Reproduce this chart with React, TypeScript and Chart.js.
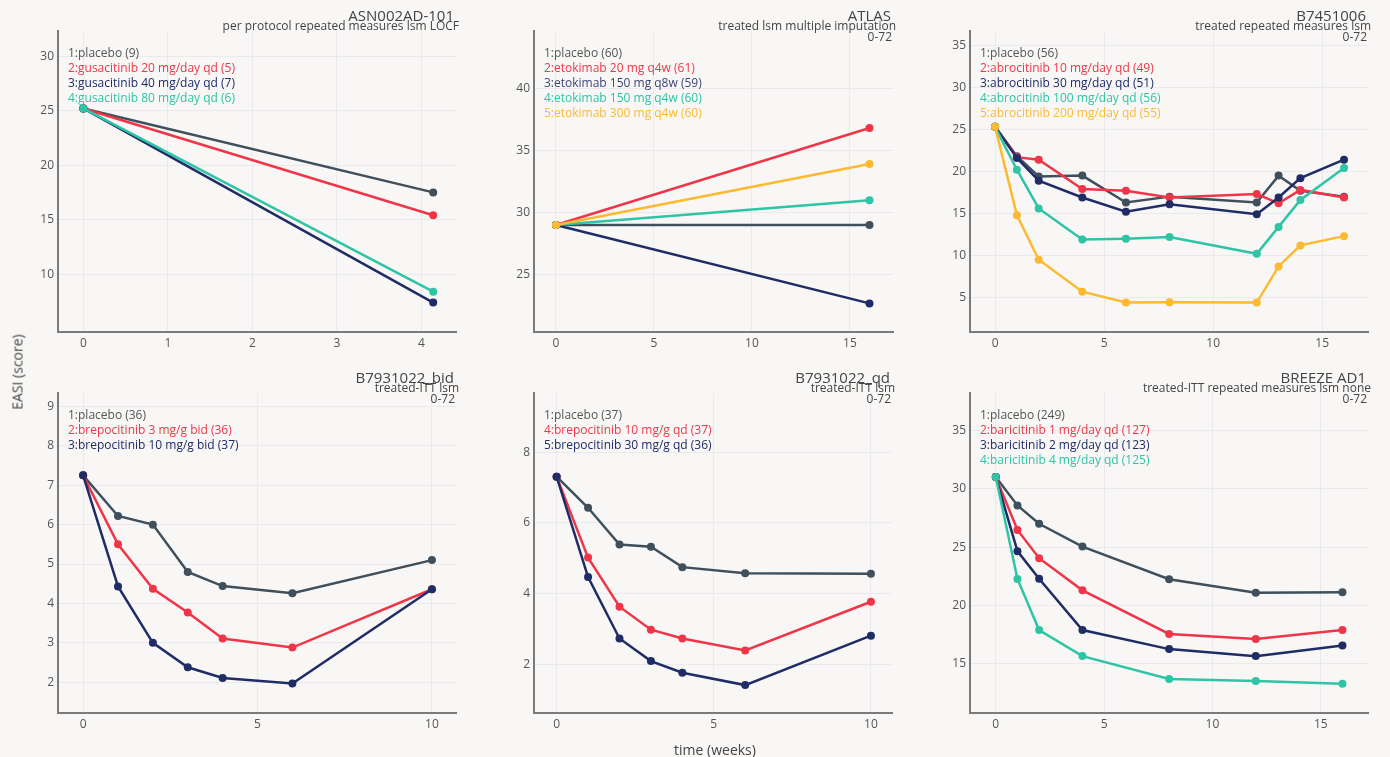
import { useEffect, useRef } from "react";
import { Chart, registerables } from "chart.js";

Chart.register(...registerables);
Chart.defaults.font.family = "'Open Sans', sans-serif";

// colours
const PLACEBO = "#3f4f5b";
const RED = "#ef3649";
const NAVY = "#1f2c66";
const TEAL = "#2ec4a5";
const YELLOW = "#fdb930";
const BG = "#f8f7f6";
const GRID = "#eaeaec";
const AXIS = "#7a7a7a";
const TEXT = "#555";

// ASN002AD-101
const asnWeeks = [0, 4.14];
const asnPlacebo = [25.2, 17.5];
const asnGus20 = [25.2, 15.4];
const asnGus40 = [25.2, 7.4];
const asnGus80 = [25.2, 8.4];
const asnXTicks = [0, 1, 2, 3, 4];
const asnYTicks = [10, 15, 20, 25, 30];

// ATLAS
const atlasWeeks = [0, 16];
const atlasPlacebo = [29.0, 29.0];
const atlasEto20q4w = [29.0, 36.8];
const atlasEto150q8w = [29.0, 22.7];
const atlasEto150q4w = [29.0, 31.0];
const atlasEto300q4w = [29.0, 33.9];
const atlasXTicks = [0, 5, 10, 15];
const atlasYTicks = [25, 30, 35, 40];

// B7451006
const b745Weeks = [0, 1, 2, 4, 6, 8, 12, 13, 14, 16];
const b745Placebo = [25.3, 21.8, 19.4, 19.5, 16.3, 17.0, 16.3, 19.5, 17.7, 17.0];
const b745Abro10 = [25.3, 21.7, 21.4, 17.9, 17.7, 16.9, 17.3, 16.2, 17.8, 16.9];
const b745Abro30 = [25.3, 21.6, 18.9, 16.9, 15.2, 16.1, 14.9, 16.9, 19.2, 21.4];
const b745Abro100 = [25.3, 20.2, 15.6, 11.9, 12.0, 12.2, 10.2, 13.4, 16.6, 20.4];
const b745Abro200 = [25.3, 14.8, 9.5, 5.7, 4.4, 4.45, 4.4, 8.7, 11.2, 12.3];
const b745XTicks = [0, 5, 10, 15];
const b745YTicks = [5, 10, 15, 20, 25, 30, 35];

// B7931022_bid
const bidWeeks = [0, 1, 2, 3, 4, 6, 10];
const bidPlacebo = [7.25, 6.22, 6.0, 4.8, 4.44, 4.26, 5.1];
const bidBrepo3 = [7.25, 5.5, 4.37, 3.77, 3.11, 2.88, 4.36];
const bidBrepo10 = [7.25, 4.43, 3.0, 2.38, 2.11, 1.97, 4.36];
const bidXTicks = [0, 5, 10];
const bidYTicks = [2, 3, 4, 5, 6, 7, 8, 9];

// B7931022_qd
const qdWeeks = [0, 1, 2, 3, 4, 6, 10];
const qdPlacebo = [7.31, 6.43, 5.39, 5.33, 4.75, 4.58, 4.56];
const qdBrepo10 = [7.31, 5.02, 3.63, 2.98, 2.73, 2.39, 3.77];
const qdBrepo30 = [7.31, 4.47, 2.73, 2.09, 1.76, 1.41, 2.81];
const qdXTicks = [0, 5, 10];
const qdYTicks = [2, 4, 6, 8];

// BREEZE AD1
const breezeWeeks = [0, 1, 2, 4, 8, 12, 16];
const breezePlacebo = [31.0, 28.57, 27.0, 25.05, 22.25, 21.1, 21.14];
const breezeBari1 = [31.0, 26.47, 24.06, 21.3, 17.57, 17.14, 17.9];
const breezeBari2 = [31.0, 24.66, 22.3, 17.9, 16.27, 15.67, 16.58];
const breezeBari4 = [31.0, 22.28, 17.9, 15.67, 13.71, 13.55, 13.3];
const breezeXTicks = [0, 5, 10, 15];
const breezeYTicks = [15, 20, 25, 30, 35];

interface Series {
  label: string;
  color: string;
  textColor?: string;
  values: number[];
}

interface Panel {
  title: string;
  sub: string[];
  weeks: number[];
  series: Series[];
  box: [number, number, number, number]; // plot area l, t, r, b
  x: [number, number];
  y: [number, number];
  xTicks: number[];
  yTicks: number[];
}

const panels: Panel[] = [
  {
    title: "ASN002AD-101",
    sub: ["per protocol repeated measures lsm LOCF"],
    weeks: asnWeeks,
    series: [
      { label: "1:placebo (9)", color: PLACEBO, textColor: TEXT, values: asnPlacebo },
      { label: "2:gusacitinib 20 mg/day qd (5)", color: RED, values: asnGus20 },
      { label: "3:gusacitinib 40 mg/day qd (7)", color: NAVY, values: asnGus40 },
      { label: "4:gusacitinib 80 mg/day qd (6)", color: TEAL, values: asnGus80 },
    ],
    box: [58, 31, 456, 332],
    x: [-0.3, 4.41],
    y: [4.7, 32.3],
    xTicks: asnXTicks,
    yTicks: asnYTicks,
  },
  {
    title: "ATLAS",
    sub: ["treated lsm multiple imputation", "0-72"],
    weeks: atlasWeeks,
    series: [
      { label: "1:placebo (60)", color: PLACEBO, textColor: TEXT, values: atlasPlacebo },
      { label: "2:etokimab 20 mg q4w (61)", color: RED, values: atlasEto20q4w },
      { label: "3:etokimab 150 mg q8w (59)", color: NAVY, textColor: "#3a4677", values: atlasEto150q8w },
      { label: "4:etokimab 150 mg q4w (60)", color: TEAL, values: atlasEto150q4w },
      { label: "5:etokimab 300 mg q4w (60)", color: YELLOW, values: atlasEto300q4w },
    ],
    box: [534, 31, 893, 332],
    x: [-1.12, 17.2],
    y: [20.4, 44.6],
    xTicks: atlasXTicks,
    yTicks: atlasYTicks,
  },
  {
    title: "B7451006",
    sub: ["treated repeated measures lsm", "0-72"],
    weeks: b745Weeks,
    series: [
      { label: "1:placebo (56)", color: PLACEBO, textColor: TEXT, values: b745Placebo },
      { label: "2:abrocitinib 10 mg/day qd (49)", color: RED, values: b745Abro10 },
      { label: "3:abrocitinib 30 mg/day qd (51)", color: NAVY, values: b745Abro30 },
      { label: "4:abrocitinib 100 mg/day qd (56)", color: TEAL, values: b745Abro100 },
      { label: "5:abrocitinib 200 mg/day qd (55)", color: YELLOW, values: b745Abro200 },
    ],
    box: [970, 31, 1368, 332],
    x: [-1.15, 17.1],
    y: [0.9, 36.7],
    xTicks: b745XTicks,
    yTicks: b745YTicks,
  },
  {
    title: "B7931022_bid",
    sub: ["treated-ITT lsm", "0-72"],
    weeks: bidWeeks,
    series: [
      { label: "1:placebo (36)", color: PLACEBO, textColor: TEXT, values: bidPlacebo },
      { label: "2:brepocitinib 3 mg/g bid (36)", color: RED, values: bidBrepo3 },
      { label: "3:brepocitinib 10 mg/g bid (37)", color: NAVY, values: bidBrepo10 },
    ],
    box: [58, 393, 456, 713],
    x: [-0.72, 10.69],
    y: [1.22, 9.34],
    xTicks: bidXTicks,
    yTicks: bidYTicks,
  },
  {
    title: "B7931022_qd",
    sub: ["treated-ITT lsm", "0-72"],
    weeks: qdWeeks,
    series: [
      { label: "1:placebo (37)", color: PLACEBO, textColor: TEXT, values: qdPlacebo },
      { label: "4:brepocitinib 10 mg/g qd (37)", color: RED, values: qdBrepo10 },
      { label: "5:brepocitinib 30 mg/g qd (36)", color: NAVY, values: qdBrepo30 },
    ],
    box: [534, 393, 892, 713],
    x: [-0.72, 10.67],
    y: [0.62, 9.68],
    xTicks: qdXTicks,
    yTicks: qdYTicks,
  },
  {
    title: "BREEZE AD1",
    sub: ["treated-ITT repeated measures lsm none", "0-72"],
    weeks: breezeWeeks,
    series: [
      { label: "1:placebo (249)", color: PLACEBO, textColor: TEXT, values: breezePlacebo },
      { label: "2:baricitinib 1 mg/day qd (127)", color: RED, values: breezeBari1 },
      { label: "3:baricitinib 2 mg/day qd (123)", color: NAVY, values: breezeBari2 },
      { label: "4:baricitinib 4 mg/day qd (125)", color: TEAL, values: breezeBari4 },
    ],
    box: [970, 393, 1368, 713],
    x: [-1.19, 17.18],
    y: [10.8, 38.2],
    xTicks: breezeXTicks,
    yTicks: breezeYTicks,
  },
];

const AX_W = 50; // y-axis gutter
const AX_H = 28; // x-axis gutter
const PAD_T = 12;
const PAD_R = 12;
const W = 1390;

function PanelChart({ p }: { p: Panel }) {
  const canvasRef = useRef<HTMLCanvasElement>(null);

  useEffect(() => {
    if (!canvasRef.current) return;
    const n = p.series.length;
    const tickFont = { size: 12 };
    const chart = new Chart(canvasRef.current, {
      type: "line",
      data: {
        datasets: p.series.map((s, i) => ({
          label: s.label,
          data: p.weeks.map((w, j) => ({ x: w, y: s.values[j] })),
          borderColor: s.color,
          backgroundColor: s.color,
          pointBackgroundColor: s.color,
          borderWidth: 2.5,
          pointRadius: 4,
          pointBorderWidth: 0,
          tension: 0,
          order: n - i,
        })),
      },
      options: {
        animation: false,
        responsive: true,
        maintainAspectRatio: false,
        layout: { padding: { top: PAD_T, right: PAD_R, left: 0, bottom: 0 } },
        plugins: { legend: { display: false }, tooltip: { enabled: false } },
        scales: {
          x: {
            type: "linear",
            min: p.x[0],
            max: p.x[1],
            afterBuildTicks: (s: any) => { s.ticks = p.xTicks.map((v) => ({ value: v })); },
            afterFit: (s: any) => { s.height = AX_H; },
            grid: { color: GRID, drawTicks: false },
            border: { color: AXIS, width: 2 },
            ticks: { padding: 4, color: TEXT, font: tickFont },
          },
          y: {
            type: "linear",
            min: p.y[0],
            max: p.y[1],
            afterBuildTicks: (s: any) => { s.ticks = p.yTicks.map((v) => ({ value: v })); },
            afterFit: (s: any) => { s.width = AX_W; },
            grid: { color: GRID, drawTicks: false },
            border: { color: AXIS, width: 2 },
            ticks: { padding: 4, color: TEXT, font: tickFont },
          },
        },
      },
    });
    return () => { chart.destroy(); };
  }, [p]);

  const [l, t, r, b] = p.box;
  const right = W - r;

  return (
    <>
      <div
        style={{
          position: "absolute",
          left: l - AX_W,
          top: t - PAD_T,
          width: r - l + AX_W + PAD_R,
          height: b - t + PAD_T + AX_H,
        }}
      >
        <canvas ref={canvasRef} />
      </div>
      {/* titles */}
      <div style={{ position: "absolute", right: right + 2, top: t - 26, fontSize: 15, lineHeight: "20px", color: "#444", whiteSpace: "nowrap" }}>
        {p.title}
      </div>
      {p.sub.map((line, i) => (
        <div
          key={line}
          style={{
            position: "absolute",
            right: i === 0 ? right - 3 : right + 1,
            top: t - 12 + i * 11,
            fontSize: 12,
            lineHeight: "14px",
            color: "#444",
            whiteSpace: "nowrap",
          }}
        >
          {line}
        </div>
      ))}
      {/* legend */}
      {p.series.map((s, i) => (
        <div
          key={s.label}
          style={{
            position: "absolute",
            left: l + 10,
            top: t + 14 + i * 15,
            fontSize: 12,
            lineHeight: "15px",
            color: s.textColor ?? s.color,
            whiteSpace: "nowrap",
          }}
        >
          {s.label}
        </div>
      ))}
    </>
  );
}

export default function App() {
  return (
    <div
      style={{
        position: "absolute",
        left: 0,
        top: 0,
        width: W,
        height: 757,
        background: BG,
        overflow: "hidden",
        fontFamily: "'Open Sans', sans-serif",
      }}
    >
      {panels.map((p) => (
        <PanelChart key={p.title} p={p} />
      ))}
      <div
        style={{
          position: "absolute",
          left: 17,
          top: 372,
          transform: "translate(-50%, -50%) rotate(-90deg)",
          fontSize: 14,
          color: "#444",
          whiteSpace: "nowrap",
        }}
      >
        EASI (score)
      </div>
      <div
        style={{
          position: "absolute",
          left: 715,
          top: 749,
          transform: "translate(-50%, -50%)",
          fontSize: 14,
          color: "#444",
          whiteSpace: "nowrap",
        }}
      >
        time (weeks)
      </div>
    </div>
  );
}
